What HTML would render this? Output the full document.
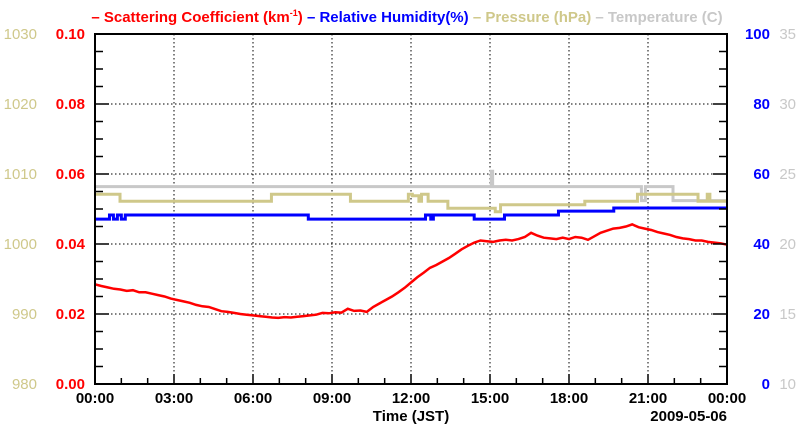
<!DOCTYPE html>
<html><head><meta charset="utf-8"><style>
body{margin:0;background:#fff;width:800px;height:434px;overflow:hidden;font-family:"Liberation Sans",sans-serif}
svg text{font-family:"Liberation Sans",sans-serif}
</style></head><body>
<svg id="c" width="800" height="434" xmlns="http://www.w3.org/2000/svg">
<g id="grid"></g>
<g id="series"></g>
<g id="axes"></g>
<text x="407" y="22" text-anchor="middle" font-size="15" font-weight="bold"><tspan fill="#ff0000">– Scattering Coefficient (km<tspan font-size="9" dy="-6">-1</tspan><tspan dy="6">) </tspan></tspan><tspan fill="#0000ff">– Relative Humidity(%) </tspan><tspan fill="#cfc88a">– Pressure (hPa) </tspan><tspan fill="#c8c8c8">– Temperature (C)</tspan></text>
<text x="411" y="421" text-anchor="middle" font-size="15" font-weight="bold">Time (JST)</text>
<text x="727" y="421" text-anchor="end" font-size="15" font-weight="bold">2009-05-06</text>
</svg>
<script>
// scattering coefficient every 15 minutes, 00:00..24:00
const scatterVals=[
0.0285,0.0280,0.0276,0.0272,
0.0270,0.0266,0.0268,0.0262,
0.0262,0.0258,0.0254,0.0250,
0.0244,0.0240,0.0236,0.0232,
0.0226,0.0222,0.0220,0.0214,
0.0208,0.0206,0.0203,0.0200,
0.0198,0.0196,0.0194,0.0192,
0.0190,0.0189,0.0191,0.0190,
0.0192,0.0194,0.0196,0.0198,
0.0203,0.0202,0.0205,0.0204,
0.0215,0.0209,0.0210,0.0206,
0.0220,0.0230,0.0240,0.0250,
0.0262,0.0275,0.0290,0.0305,
0.0318,0.0332,0.0340,0.0350,
0.0360,0.0372,0.0385,0.0395,
0.0404,0.0410,0.0408,0.0406,
0.0410,0.0412,0.0410,0.0414,
0.0420,0.0432,0.0424,0.0418,
0.0416,0.0414,0.0418,0.0414,
0.0420,0.0418,0.0412,0.0422,
0.0432,0.0438,0.0444,0.0446,
0.0450,0.0456,0.0448,0.0444,
0.0440,0.0434,0.0430,0.0426,
0.0420,0.0416,0.0414,0.0410,
0.0410,0.0406,0.0404,0.0402,
0.0398];
const tempHours=[0,15,15.05,15.1,20.75,20.9,21.95,24];
const tempVals=[24.1,24.1,25.2,24.1,23.1,24.1,23.1,23.1];
const presHours=[0,0.95,6.7,9.7,11.9,12.05,12.3,12.4,12.55,12.65,13.4,15.2,15.4,18.6,20.6,22.9,23.25,23.35,24];
const presVals=[1007.1,1006.1,1007.1,1006.1,1007.1,1006.9,1006.1,1007.1,1007.1,1006.1,1005.1,1004.6,1005.6,1006.1,1007.1,1006.1,1007.1,1006.1,1006.1];
const rhHours=[0,0.55,0.7,0.85,1.0,1.15,8.1,12.55,12.75,12.85,14.4,15.55,17.6,19.7,24];
const rhVals=[47.1,48.3,47.1,48.3,47.1,48.3,47.1,48.3,47.1,48.3,47.1,48.3,49.4,50.3,50.3];
const leftTicks=["0.00","0.02","0.04","0.06","0.08","0.10"];
const presTicks=["980","990","1000","1010","1020","1030"];
const rhTicks=["0","20","40","60","80","100"];
const tempTicks=["10","15","20","25","30","35"];
const xTicks=["00:00","03:00","06:00","09:00","12:00","15:00","18:00","21:00","00:00"];

const L=95,R=727,T=34,B=384;
const NS="http://www.w3.org/2000/svg";
const xs=h=>L+(R-L)*h/24;
const yS=v=>B-(B-T)*v/0.1;
const yP=v=>B-(B-T)*(v-980)/50;
const yR=v=>B-(B-T)*v/100;
const yT=v=>B-(B-T)*(v-10)/25;
function mk(tag,attrs,parent){const e=document.createElementNS(NS,tag);for(const k in attrs)e.setAttribute(k,attrs[k]);parent.appendChild(e);return e;}
const grid=document.getElementById('grid'),series=document.getElementById('series'),axes=document.getElementById('axes');
for(let i=1;i<8;i++){const l=mk('line',{x1:xs(i*3),x2:xs(i*3),y1:T,y2:B,stroke:'#000','stroke-width':1,'stroke-dasharray':'1.5,2.5'},grid);

}
for(let i=1;i<5;i++){const l=mk('line',{x1:L,x2:R,y1:yS(i*0.02),y2:yS(i*0.02),stroke:'#000','stroke-width':1,'stroke-dasharray':'1.5,2.5'},grid);

}
function step(hours,vals,yf,color,name){let d='';for(let i=0;i<hours.length;i++){const x=xs(hours[i]),y=yf(vals[i]);if(i===0)d+='M'+x+','+y;else d+='H'+x+'V'+y;}d+='H'+R;
const p=mk('path',{d:d,fill:'none',stroke:color,'stroke-width':3},series);

}
step(tempHours,tempVals,yT,'#c8c8c8','temperature-line');
step(presHours,presVals,yP,'#cfc88a','pressure-line');
step(rhHours,rhVals,yR,'#0000ff','humidity-line');
let d2='';scatterVals.forEach((v,i)=>{d2+=(i?'L':'M')+xs(i*24/(scatterVals.length-1)).toFixed(1)+','+yS(v).toFixed(1);});
const sp=mk('path',{d:d2,fill:'none',stroke:'#ff0000','stroke-width':2.5},series);


const fr=mk('rect',{x:L,y:T,width:R-L,height:B-T,fill:'none',stroke:'#000','stroke-width':2},axes);


for(let i=0;i<=20;i++){const y=yS(i*0.005),len=i%4===0?14:8;
mk('line',{x1:L,x2:L+len,y1:y,y2:y,stroke:'#000','stroke-width':1.5},axes);
mk('line',{x1:R,x2:R-len,y1:y,y2:y,stroke:'#000','stroke-width':1.5},axes);}
for(let i=0;i<=24;i++){const x=xs(i),len=i%3===0?10:6;mk('line',{x1:x,x2:x,y1:B,y2:B-len,stroke:'#000','stroke-width':1.5},axes);}
function lbl(x,y,t,anchor,color,bold,name){const e=mk('text',{x:x,y:y,'text-anchor':anchor,fill:color,'font-size':15,'font-weight':bold?'bold':'normal'},axes);e.textContent=t;

}
for(let i=0;i<6;i++){const y=B-i*70+5;
lbl(85,y,leftTicks[i],'end','#ff0000',true,'scatter-tick-label');
lbl(37,y,presTicks[i],'end','#cfc88a',false,'pressure-tick-label');
lbl(770,y,rhTicks[i],'end','#0000ff',true,'humidity-tick-label');
lbl(796,y,tempTicks[i],'end','#c8c8c8',false,'temperature-tick-label');}
for(let i=0;i<9;i++)lbl(xs(i*3),403,xTicks[i],'middle','#000',true,'x-tick-label');
</script>
</body></html>
